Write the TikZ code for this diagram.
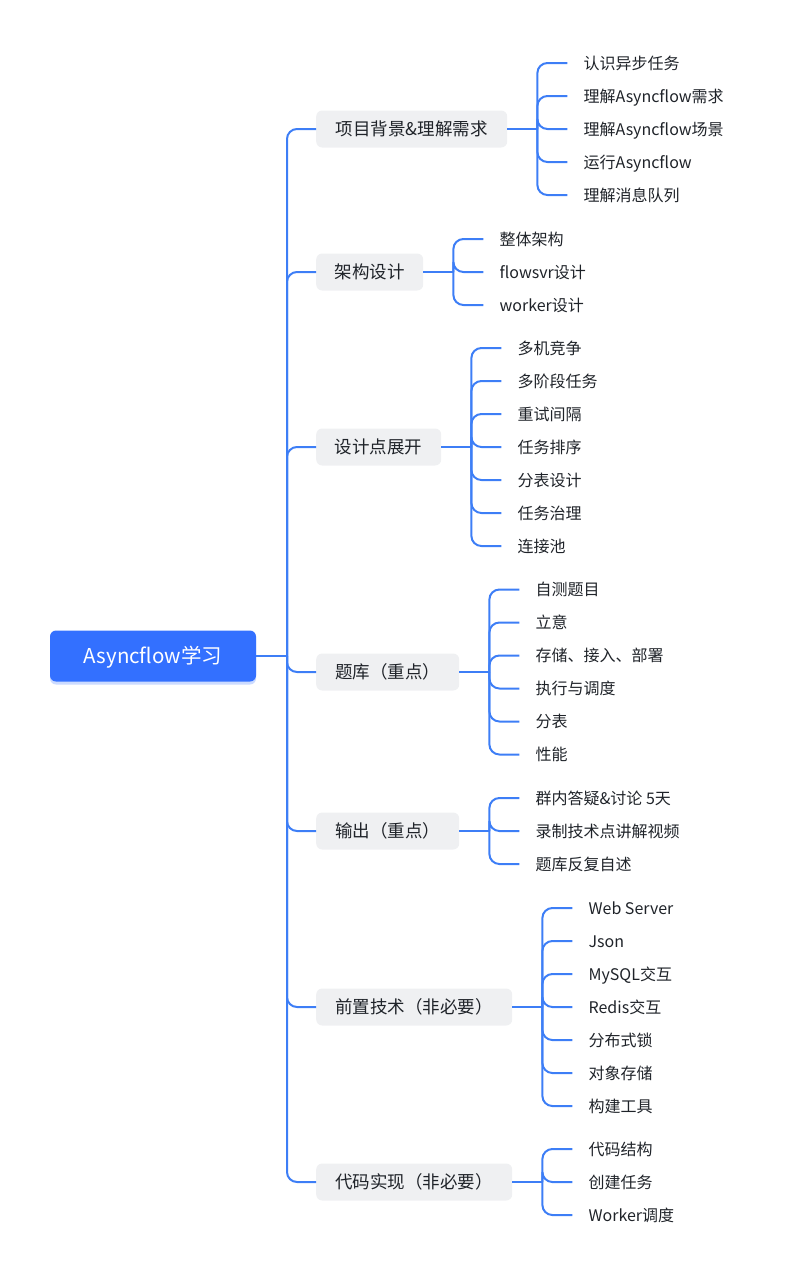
\documentclass[tikz,border=0pt]{standalone}
\usepackage{fontspec}
\setmainfont{Noto Sans CJK SC}
\definecolor{rootblue}{HTML}{3370FF}
\definecolor{linkblue}{HTML}{3D7EF6}
\definecolor{boxgray}{HTML}{EFF0F2}
\definecolor{inkgray}{HTML}{1F2329}
\tikzset{root/.style = {fill=rootblue, text=white, rounded corners=6pt,
                        minimum width=206pt, minimum height=51pt,
                        font=\fontsize{20.5}{24}\selectfont,
                        text height=18pt, text depth=2.5pt,
                        drop shadow={fill=rootblue, opacity=0.25, shadow xshift=0pt, shadow yshift=-3pt}},
         topic/.style = {fill=boxgray, text=inkgray, rounded corners=6pt, anchor=west,
                         minimum height=37pt, inner xsep=0pt,
                         font=\fontsize{17.5}{21}\selectfont,
                         text height=15.4pt, text depth=2.1pt},
         leaf/.style = {text=inkgray, anchor=west, inner xsep=0pt,
                        font=\fontsize{16}{19}\selectfont,
                        text height=14.1pt, text depth=1.9pt},
         link/.style = {draw=linkblue, line width=2pt, rounded corners=10pt}}
\usetikzlibrary{positioning,calc,shadows}

\begin{document}
\begin{tikzpicture}[x=1pt, y=-1pt]
\useasboundingbox (0,0) rectangle (787,1280);
\node[root] (root) at (153,656) {Asyncflow学习};
\coordinate (trunk) at (287,656);
\draw[link] (root.east) -- (trunk);
% topics
\node[topic, minimum width=191pt] (bg) at (316,129) {项目背景\&理解需求};
\node[topic, minimum width=107pt] (arch) at (316,272) {架构设计};
\node[topic, minimum width=125pt] (point) at (316,447) {设计点展开};
\node[topic, minimum width=143pt] (bank) at (316,672) {题库（重点）};
\node[topic, minimum width=143pt] (out) at (316,831) {输出（重点）};
\node[topic, minimum width=196pt] (pre) at (316,1007) {前置技术（非必要）};
\node[topic, minimum width=196pt] (code) at (316,1182) {代码实现（非必要）};
\foreach \b in {bg,arch,point,bank,out,pre,code} {
  \draw[link] (trunk) |- (\b.west);
  \coordinate (\b j) at ([xshift=30pt]\b.east);
  \draw[link] (\b.east) -- (\b j);
}
% leaves
\foreach \t [count=\i] in {认识异步任务,理解Asyncflow需求,理解Asyncflow场景,运行Asyncflow,理解消息队列} {
  \node[leaf] (bg\i) at ($(bgj)+(46,{33*(\i-3)})$) {\t};
  \draw[link] (bgj) |- ([xshift=-16pt]bg\i.west);
}
\foreach \t [count=\i] in {整体架构,flowsvr设计,worker设计} {
  \node[leaf] (arch\i) at ($(archj)+(46,{33*(\i-2)})$) {\t};
  \draw[link] (archj) |- ([xshift=-16pt]arch\i.west);
}
\foreach \t [count=\i] in {多机竞争,多阶段任务,重试间隔,任务排序,分表设计,任务治理,连接池} {
  \node[leaf] (point\i) at ($(pointj)+(46,{33*(\i-4)})$) {\t};
  \draw[link] (pointj) |- ([xshift=-16pt]point\i.west);
}
\foreach \t [count=\i] in {自测题目,立意,存储、接入、部署,执行与调度,分表,性能} {
  \node[leaf] (bank\i) at ($(bankj)+(46,{33*(\i-3.5)})$) {\t};
  \draw[link] (bankj) |- ([xshift=-16pt]bank\i.west);
}
\foreach \t [count=\i] in {群内答疑\&讨论 5天,录制技术点讲解视频,题库反复自述} {
  \node[leaf] (out\i) at ($(outj)+(46,{33*(\i-2)})$) {\t};
  \draw[link] (outj) |- ([xshift=-16pt]out\i.west);
}
\foreach \t [count=\i] in {Web Server,Json,MySQL交互,Redis交互,分布式锁,对象存储,构建工具} {
  \node[leaf] (pre\i) at ($(prej)+(46,{33*(\i-4)})$) {\t};
  \draw[link] (prej) |- ([xshift=-16pt]pre\i.west);
}
\foreach \t [count=\i] in {代码结构,创建任务,Worker调度} {
  \node[leaf] (code\i) at ($(codej)+(46,{33*(\i-2)})$) {\t};
  \draw[link] (codej) |- ([xshift=-16pt]code\i.west);
}
\end{tikzpicture}
\end{document}
